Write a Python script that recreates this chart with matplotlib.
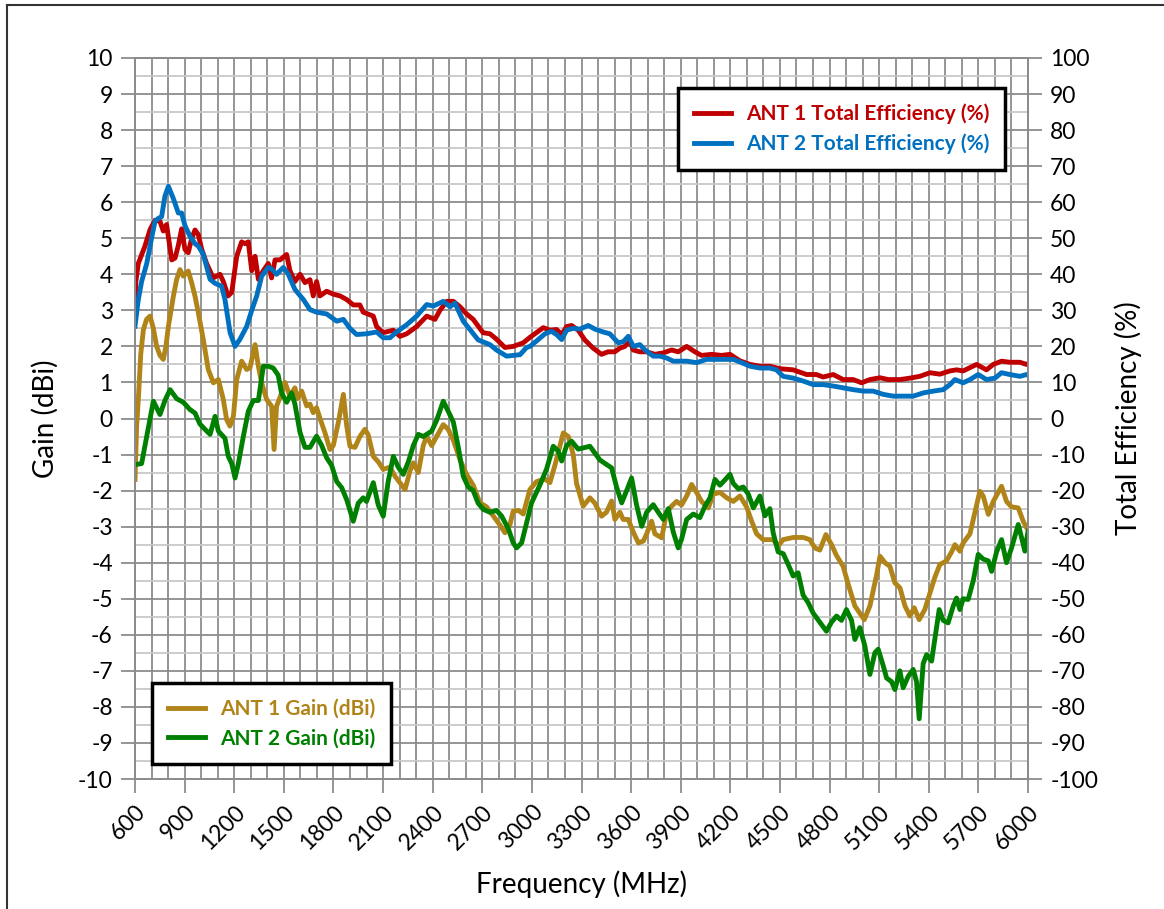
import matplotlib
matplotlib.use("Agg")
import matplotlib.pyplot as plt
from matplotlib.lines import Line2D
import numpy as np

# ---------------- data ----------------
ant1_eff_f = [600, 605, 620, 660, 691, 721, 751, 771, 791, 822, 842, 862, 882, 902, 922, 943, 963, 983, 1003,
              1033, 1073, 1114, 1134, 1163, 1185, 1215, 1245, 1265, 1285, 1306, 1326, 1346, 1376, 1406, 1426,
              1447, 1477, 1517, 1537, 1567, 1598, 1628, 1658, 1678, 1698, 1718, 1759, 1799, 1840, 1880, 1920,
              1960, 1980, 2041, 2061, 2100, 2162, 2202, 2243, 2303, 2364, 2414, 2444, 2485, 2525, 2565, 2605,
              2645, 2705, 2746, 2786, 2837, 2887, 2948, 2988, 3069, 3109, 3149, 3180, 3210, 3240, 3280, 3320,
              3371, 3421, 3461, 3501, 3532, 3562, 3593, 3613, 3653, 3694, 3744, 3794, 3845, 3885, 3936, 3986,
              4026, 4087, 4147, 4198, 4258, 4319, 4379, 4439, 4500, 4580, 4661, 4721, 4761, 4822, 4882, 4943,
              4994, 5044, 5105, 5155, 5226, 5286, 5346, 5407, 5467, 5528, 5568, 5608, 5689, 5749, 5790, 5840,
              5890, 5951, 5991, 6000]
ant1_eff = [30, 38, 43, 47.8, 52.4, 55, 54.7, 52, 53.8, 44, 44.5, 48, 52.6, 46.9, 46, 50, 52.3, 51, 47,
            43, 39, 40, 38, 34, 35, 45, 49, 48.5, 49, 41, 45, 38.6, 41, 43, 39,
            44, 44, 45.5, 41, 38, 40, 37.7, 38.5, 34, 38, 34, 35.3, 34.5, 34, 33, 31.5,
            31.5, 29.5, 28.4, 25.5, 23.8, 24.5, 22.8, 23.5, 25.5, 28.4, 27.5, 30, 32.5, 32.5, 31, 29,
            27.5, 23.8, 23.5, 22, 19.7, 20, 21, 22.5, 25.2, 24.5, 24.7, 23.3, 25.5, 25.8, 24.5, 21.8,
            19.5, 17.8, 18.5, 18.5, 19.5, 20, 21.4, 19, 18.5, 18.5, 17.8, 18.2, 19, 18.5, 20, 18.5,
            17.5, 17.8, 17.5, 17.8, 16, 15, 14.5, 14.5, 13.8, 13.5, 12.2, 12.2, 11.5, 12.2, 10.8, 10.8,
            9.9, 10.8, 11.3, 10.8, 10.8, 11.2, 11.7, 12.7, 12.3, 13.2, 13.5, 13.2, 15, 13.5, 15, 15.9,
            15.6, 15.6, 15, 15.2]

ant2_eff_f = [600, 620, 640, 671, 700, 721, 741, 761, 781, 802, 832, 862, 882, 902, 932, 963, 983, 1013,
              1054, 1084, 1124, 1144, 1175, 1205, 1235, 1275, 1306, 1336, 1366, 1406, 1426, 1456, 1497, 1527,
              1567, 1618, 1658, 1698, 1759, 1820, 1860, 1900, 1940, 2001, 2061, 2101, 2142, 2182, 2243, 2303,
              2364, 2404, 2464, 2505, 2535, 2585, 2625, 2675, 2746, 2786, 2847, 2928, 2968, 2988, 3028, 3079,
              3119, 3149, 3180, 3210, 3250, 3290, 3341, 3381, 3431, 3471, 3522, 3552, 3583, 3613, 3653, 3684,
              3734, 3774, 3814, 3855, 3895, 3936, 3996, 4057, 4117, 4177, 4218, 4268, 4319, 4379, 4439, 4479,
              4519, 4580, 4640, 4701, 4761, 4822, 4882, 4943, 5004, 5064, 5124, 5185, 5246, 5306, 5367, 5427,
              5487, 5528, 5558, 5608, 5649, 5699, 5749, 5800, 5840, 5890, 5951, 5991, 6000]
ant2_eff = [25.6, 33, 38, 43, 50, 54.7, 55.5, 56, 61.7, 64.4, 61, 57, 57, 53.5, 50.6, 48.5, 47.8, 45.5,
            38.6, 37.5, 36.7, 33, 23.8, 20, 22, 25.5, 30, 34, 39.5, 41.9, 41.5, 40, 41.9, 40,
            35.8, 33, 30.2, 29.5, 29, 27, 27.5, 25, 23.3, 23.5, 24, 22.4, 22.4, 24, 26, 28.4,
            31.6, 31.2, 32.5, 31, 32, 27, 24.7, 21.8, 20.5, 19, 17.3, 17.7, 19.7, 20, 21.5, 23.5,
            24.2, 23.3, 21.9, 24.5, 25, 24.8, 25.8, 24.8, 24, 23.5, 21, 21.3, 22.8, 20, 20.5, 19,
            17.3, 17.3, 16.8, 15.9, 15.9, 15.9, 15.5, 16.4, 16.4, 16.4, 16.4, 15.5, 14.5, 14, 14, 13.5,
            11.7, 11.2, 10.4, 9.4, 9.4, 9, 8.5, 8, 7.6, 7.6, 6.7, 6.2, 6.2, 6.2, 7.1, 7.6,
            8, 9.4, 10.8, 9.9, 10.8, 12.2, 10.8, 11.2, 12.7, 12.2, 11.7, 12.2, 12]

ant1_gain_f = [600, 610, 620, 635, 651, 670, 691, 711, 731, 751, 771, 787, 802, 832, 852, 872, 892, 922, 943,
               963, 983, 1013, 1043, 1074, 1104, 1134, 1154, 1174, 1195, 1215, 1245, 1275, 1295, 1326, 1346,
               1366, 1396, 1426, 1441, 1456, 1487, 1507, 1537, 1567, 1583, 1608, 1638, 1658, 1678, 1698, 1719,
               1749, 1779, 1799, 1830, 1860, 1880, 1900, 1930, 1960, 1990, 2010, 2041, 2071, 2101, 2142, 2172,
               2202, 2233, 2263, 2283, 2313, 2343, 2364, 2394, 2424, 2464, 2494, 2525, 2565, 2605, 2645, 2686,
               2726, 2766, 2806, 2837, 2867, 2887, 2918, 2948, 2988, 3028, 3079, 3109, 3139, 3190, 3220, 3250,
               3270, 3310, 3351, 3381, 3421, 3451, 3482, 3502, 3532, 3552, 3583, 3613, 3644, 3674, 3694, 3724,
               3744, 3785, 3815, 3845, 3875, 3905, 3936, 3966, 3996, 4026, 4067, 4097, 4137, 4178, 4218, 4258,
               4298, 4329, 4359, 4399, 4429, 4459, 4489, 4519, 4580, 4640, 4681, 4711, 4741, 4778, 4812, 4842,
               4882, 4913, 4953, 5010, 5044, 5084, 5105, 5135, 5165, 5195, 5226, 5256, 5286, 5312, 5342, 5376,
               5407, 5437, 5467, 5507, 5538, 5558, 5588, 5608, 5649, 5679, 5709, 5729, 5760, 5790, 5840, 5870,
               5900, 5941, 5971, 5991, 6000]
ant1_gain = [-1.69, -0.2, 0.53, 1.8, 2.47, 2.75, 2.84, 2.5, 2.0, 1.75, 1.64, 2.0, 2.56, 3.39, 3.86, 4.13, 3.95, 4.09, 3.76,
             3.39, 2.93, 2.19, 1.36, 0.99, 1.08, 0.53, -0.03, -0.21, 0.06, 1.08, 1.59, 1.36, 1.4, 2.05, 1.45,
             0.99, 0.53, 0.34, -0.86, 0.34, 0.71, 1.0, 0.62, 0.85, 0.55, 0.76, 0.35, 0.4, 0.16, 0.3, 0.0,
             -0.4, -0.86, -0.75, -0.1, 0.67, -0.2, -0.77, -0.8, -0.5, -0.3, -0.45, -1.05, -1.2, -1.41, -1.35, -1.6,
             -1.78, -1.97, -1.45, -1.23, -1.5, -0.75, -0.49, -0.75, -0.5, -0.17, -0.3, -0.6, -1.14, -1.55, -1.85, -2.34,
             -2.45, -2.7, -2.95, -3.17, -2.95, -2.57, -2.55, -2.65, -1.97, -1.75, -1.68, -1.78, -1.3, -0.4, -0.5, -1.0,
             -1.8, -2.43, -2.2, -2.35, -2.71, -2.6, -2.29, -2.8, -2.6, -2.8, -2.8, -3.15, -3.45, -3.4, -3.2, -2.85,
             -3.2, -3.31, -2.6, -2.43, -2.3, -2.4, -2.15, -1.83, -2.05, -2.3, -2.48, -2.1, -2.05, -2.2, -2.3, -2.15,
             -2.45, -2.85, -3.2, -3.36, -3.36, -3.36, -3.54, -3.36, -3.3, -3.3, -3.36, -3.59, -3.65, -3.22, -3.5, -3.8,
             -4.1, -4.6, -5.2, -5.58, -5.2, -4.35, -3.82, -4.0, -4.1, -4.56, -4.7, -5.2, -5.48, -5.25, -5.58, -5.3,
             -4.84, -4.4, -4.05, -3.95, -3.7, -3.5, -3.68, -3.45, -3.2, -2.6, -2.02, -2.15, -2.66, -2.3, -1.88, -2.3,
             -2.45, -2.48, -2.85, -3.03, -3.05]

ant2_gain_f = [600, 640, 671, 711, 751, 781, 812, 852, 892, 932, 963, 992, 1023, 1054, 1084, 1104, 1144, 1164,
               1185, 1205, 1225, 1255, 1285, 1315, 1346, 1376, 1406, 1436, 1466, 1486, 1517, 1547, 1567, 1598,
               1628, 1658, 1698, 1729, 1759, 1789, 1820, 1850, 1880, 1920, 1950, 1980, 2000, 2041, 2071, 2101,
               2131, 2162, 2192, 2222, 2253, 2283, 2313, 2343, 2394, 2424, 2464, 2494, 2525, 2555, 2585, 2615,
               2645, 2675, 2706, 2746, 2786, 2816, 2857, 2887, 2907, 2938, 2968, 2998, 3048, 3089, 3129, 3159,
               3180, 3210, 3240, 3280, 3351, 3411, 3482, 3512, 3543, 3573, 3603, 3633, 3664, 3694, 3734, 3764,
               3795, 3825, 3855, 3885, 3905, 3936, 3976, 4016, 4047, 4077, 4107, 4137, 4168, 4198, 4218, 4248,
               4278, 4309, 4339, 4379, 4409, 4439, 4459, 4489, 4520, 4550, 4580, 4610, 4640, 4671, 4701, 4741,
               4781, 4812, 4842, 4872, 4902, 4933, 4953, 4983, 5013, 5044, 5074, 5094, 5124, 5145, 5175, 5195,
               5225, 5245, 5276, 5306, 5326, 5342, 5366, 5387, 5417, 5437, 5463, 5487, 5517, 5548, 5568, 5588,
               5608, 5638, 5669, 5699, 5729, 5760, 5780, 5810, 5840, 5870, 5900, 5941, 5961, 5981, 6000]
ant2_gain = [-1.28, -1.25, -0.5, 0.48, 0.11, 0.5, 0.8, 0.55, 0.45, 0.25, 0.15, -0.15, -0.3, -0.44, 0.06, -0.35, -0.55, -1.05,
             -1.25, -1.65, -1.25, -0.5, 0.2, 0.5, 0.5, 1.45, 1.45, 1.4, 1.2, 0.71, 0.45, 0.71, 0.4, -0.39,
             -0.8, -0.8, -0.49, -0.75, -1.09, -1.3, -1.75, -1.92, -2.25, -2.85, -2.35, -2.2, -2.3, -1.78, -2.4, -2.71,
             -1.75, -1.05, -1.35, -1.55, -1.2, -0.75, -0.44, -0.5, -0.35, -0.05, 0.48, 0.2, -0.1, -0.8, -1.6, -1.9,
             -2.0, -2.35, -2.52, -2.6, -2.55, -2.7, -3.05, -3.45, -3.59, -3.45, -2.9, -2.34, -1.85, -1.4, -0.77, -0.9,
             -1.18, -0.75, -0.63, -0.85, -0.77, -1.15, -1.37, -1.9, -2.34, -2.0, -1.65, -2.4, -2.99, -2.6, -2.39, -2.6,
             -2.8, -2.5, -3.15, -3.59, -3.35, -2.8, -2.65, -2.75, -2.43, -2.2, -1.69, -1.85, -1.7, -1.55, -1.8, -1.95,
             -1.9, -2.1, -2.48, -2.15, -2.7, -2.5, -3.17, -3.7, -3.75, -4.05, -4.37, -4.28, -4.9, -5.11, -5.4, -5.65,
             -5.9, -5.65, -5.48, -5.6, -5.3, -5.6, -6.13, -5.8, -6.3, -7.1, -6.5, -6.4, -6.85, -7.2, -7.3, -7.52,
             -7.0, -7.47, -7.15, -6.96, -7.3, -8.33, -6.8, -6.55, -6.73, -6.1, -5.3, -5.6, -5.67, -5.2, -4.98, -5.3,
             -5.0, -5.02, -4.5, -3.77, -3.9, -3.95, -4.24, -3.7, -3.36, -4.0, -3.6, -2.94, -3.3, -3.68, -3.13]

x_ticks = list(range(600, 6001, 300))
gain_ticks = list(range(-10, 11))
eff_ticks = list(range(-100, 101, 10))

labels = ["ANT 1 Total Efficiency (%)", "ANT 2 Total Efficiency (%)", "ANT 1 Gain (dBi)", "ANT 2 Gain (dBi)"]
colors = ["#C00000", "#0070C0", "#B08418", "#008000"]

# ---------------- plot ----------------
plt.rcParams['font.family'] = ['Lato', 'DejaVu Sans']
W, H = 1164, 909
fig = plt.figure(figsize=(W / 100, H / 100), dpi=100)
ax = fig.add_axes([135 / W, 1 - 779 / H, (1028 - 135) / W, (779 - 58) / H])
ax2 = ax.twinx()

gridc = "#8c8c8c"
ax.set_xlim(600, 6000)
ax.set_ylim(-10, 10)
ax2.set_ylim(-100, 100)

ax.set_xticks(x_ticks)
ax.set_xticks(range(600, 6001, 100), minor=True)
ax.set_yticks(gain_ticks)
ax.set_yticks(np.arange(-9.5, 10, 1.0), minor=True)
ax2.set_yticks(eff_ticks)

ax.grid(True, which='major', axis='both', color=gridc, lw=1.3)
ax.grid(True, which='minor', axis='x', color=gridc, lw=1.3)
ax.grid(True, which='minor', axis='y', color="#c8c8c8", lw=1.3)
ax.set_axisbelow(True)

ax.tick_params(axis='both', which='major', length=10, width=1.3, color=gridc, labelsize=16.5, pad=6)
ax.tick_params(axis='both', which='minor', length=0)
ax2.tick_params(axis='y', which='major', length=10, width=1.3, color=gridc, labelsize=16.5, pad=6)
for a in (ax, ax2):
    for s in a.spines.values():
        s.set_color(gridc)
        s.set_linewidth(1.3)

ax.set_xticklabels([str(v) for v in x_ticks], rotation=45, ha='right', va='top', rotation_mode='anchor')
ax.set_yticklabels([str(v) for v in gain_ticks])
ax2.set_yticklabels([str(v) for v in eff_ticks])

lw = 3.5
lg1, = ax.plot(ant1_gain_f, ant1_gain, color=colors[2], lw=lw, label=labels[2], solid_joinstyle='round')
lg2, = ax.plot(ant2_gain_f, ant2_gain, color=colors[3], lw=lw, label=labels[3], solid_joinstyle='round')
le1, = ax2.plot(ant1_eff_f, ant1_eff, color=colors[0], lw=lw, label=labels[0], solid_joinstyle='round')
le2, = ax2.plot(ant2_eff_f, ant2_eff, color=colors[1], lw=lw, label=labels[1], solid_joinstyle='round')

ax.set_xlabel("Frequency (MHz)", fontsize=20, labelpad=12)
ax.set_ylabel("Gain (dBi)", fontsize=20, labelpad=14)
ax2.set_ylabel("Total Efficiency (%)", fontsize=20, labelpad=12)


def mk_leg(a, handles, loc, anchor):
    leg = a.legend(handles=handles, loc=loc, bbox_to_anchor=anchor, frameon=True, fancybox=False,
                   framealpha=1, edgecolor='black', prop={'weight': 'bold', 'size': 15},
                   handlelength=1.8, handletextpad=0.7, borderpad=0.75, labelspacing=0.45,
                   borderaxespad=0)
    leg.get_frame().set_linewidth(2.5)
    for t, h in zip(leg.get_texts(), handles):
        t.set_color(h.get_color())
    return leg


mk_leg(ax2, [le1, le2], 'upper right', ((1005 - 135) / 893, (779 - 88) / 721))
mk_leg(ax, [lg1, lg2], 'lower left', ((152 - 135) / 893, (779 - 764) / 721))

# outer frame
fig.add_artist(Line2D([7 / W, 7 / W], [0, 1 - 5 / H], transform=fig.transFigure, color='#333333', lw=1.5))
fig.add_artist(Line2D([7 / W, 1], [1 - 5 / H, 1 - 5 / H], transform=fig.transFigure, color='#333333', lw=1.5))

fig.savefig("out.png", dpi=100)
